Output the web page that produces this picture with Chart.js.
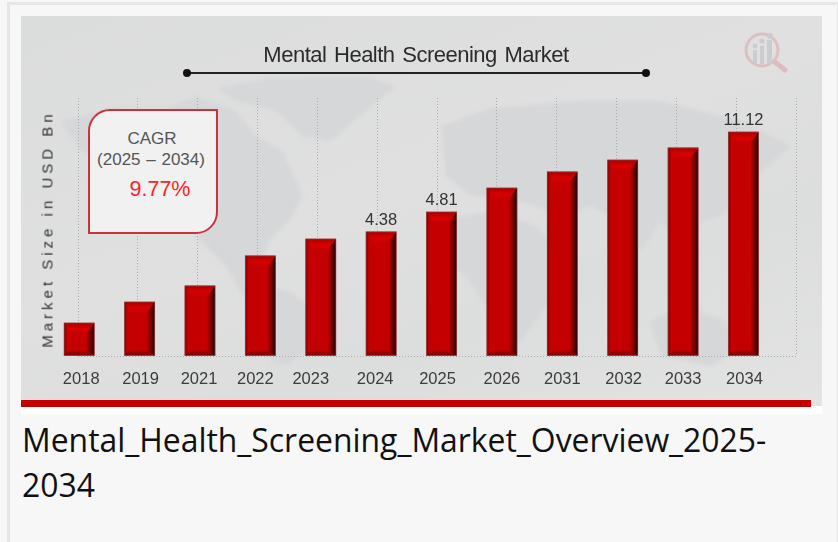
<!DOCTYPE html>
<html>
<head>
<meta charset="utf-8">
<title>Mental Health Screening Market</title>
<script src="https://cdn.jsdelivr.net/npm/chart.js@4"></script>
<style>
html, body { margin: 0; height: 100%; overflow: hidden; background: #f7f7f7; }
.frame { position: absolute; left: 7px; top: 2px; width: 827px; height: 600px; border: 3px solid #e6e6e6; box-sizing: content-box; }
.white { position: absolute; left: 21px; top: 400px; width: 801px; height: 14px; background: #fff; }
.panel { position: absolute; left: 21px; top: 16px; width: 801px; height: 390px; overflow: hidden;
  background: linear-gradient(160deg, #dbdcdc 0%, #e0e0e1 45%, #dcdddd 70%, #e3e3e3 100%); }
.panel svg { position: absolute; left: 0; top: 0; }
.redbar { position: absolute; left: 21px; top: 400px; width: 790px; height: 7px; background: #c40000; }
canvas { position: absolute; left: 21px; top: 16px; }
.title { position: absolute; left: 116px; width: 600px; top: 42px; text-align: center; font: 22px "Liberation Sans", Arial, sans-serif; color: #2b2b2b; word-spacing: 2px; letter-spacing: -0.5px; }
.rule { position: absolute; left: 186px; top: 72px; width: 459px; height: 2px; background: #222; }
.dot { position: absolute; top: 69px; width: 8px; height: 8px; border-radius: 50%; background: #111; }
.ytitle { position: absolute; left: 47px; top: 229px; transform: translate(-50%, -50%) rotate(-90deg); white-space: nowrap;
  font: 15px "Liberation Sans", Arial, sans-serif; letter-spacing: 4px; color: #333; }
.cagr { position: absolute; left: 88px; top: 109px; width: 126px; height: 121px; box-sizing: content-box; background: #f1f1f2;
  border: 2px solid #c9343c; border-radius: 22px 0 22px 0; font-family: "Liberation Sans", Arial, sans-serif; color: #555; }
.cagr div { position: absolute; white-space: nowrap; transform: translate(-50%, -50%); }
.caption { position: absolute; left: 22px; top: 417px; width: 790px; font: 31.9px/45px "Open Sans", sans-serif; color: #111; }
</style>
</head>
<body>
<div class="frame"></div>
<div class="white"></div>
<div class="panel">
  <svg width="801" height="390" viewBox="0 0 801 390">
    <defs><filter id="soft"><feGaussianBlur stdDeviation="2"/></filter></defs>
    <g fill="#d6d7d8" filter="url(#soft)">
      <path d="M40 105 L95 92 L130 100 L175 80 L215 95 L235 120 L262 135 L282 180 L268 205 L248 225 L236 262 L222 280 L205 250 L170 215 L125 190 L95 150 L60 135 Z"/>
      <path d="M195 72 L250 62 L345 60 L375 70 L345 95 L310 125 L280 120 L255 95 L215 85 Z"/>
      <path d="M228 268 L268 275 L300 300 L285 335 L265 350 L250 345 L240 305 Z"/>
      <path d="M420 110 L470 92 L560 85 L640 85 L720 105 L770 130 L735 160 L700 200 L680 205 L660 225 L640 205 L620 235 L600 205 L570 190 L540 200 L500 185 L450 180 L425 160 Z"/>
      <path d="M420 205 L470 195 L515 210 L545 240 L525 290 L500 325 L480 335 L465 290 L445 260 L420 245 Z"/>
      <path d="M628 305 L665 290 L705 305 L715 335 L690 350 L640 340 Z"/>
    </g>
    <g transform="translate(741,34)" opacity="0.75">
      <circle cx="0" cy="0" r="16" fill="none" stroke="#dcb4b8" stroke-width="3"/>
      <line x1="13" y1="12" x2="23" y2="20" stroke="#dfb0b5" stroke-width="5" stroke-linecap="round"/>
      <g fill="#c5c6c9">
        <rect x="-9" y="0" width="4" height="13"/><rect x="-2" y="-4" width="4" height="18"/><rect x="5" y="-10" width="5" height="23"/>
        <circle cx="-7" cy="-4" r="2.4"/><circle cx="0" cy="-9" r="2.6"/><circle cx="8" cy="-14" r="3"/>
      </g>
    </g>
  </svg>
</div>
<div class="redbar"></div>
<canvas id="chart" width="801" height="390"></canvas>
<div class="title">Mental Health Screening Market</div>
<div class="rule"></div>
<div class="dot" style="left:183px"></div>
<div class="dot" style="left:642px"></div>
<div class="ytitle">Market Size in USD Bn</div>
<div class="cagr">
  <div style="left:62px;top:28px;font-size:17px">CAGR</div>
  <div style="left:61px;top:49px;font-size:17px;word-spacing:1px">(2025 – 2034)</div>
  <div style="left:70px;top:78px;font-size:21.5px;color:#ff2222">9.77%</div>
</div>
<div class="caption">Mental_Health_Screening_Market_Overview_2025-2034</div>

<script>
const years = ['2018', '2019', '2021', '2022', '2023', '2024', '2025', '2026', '2031', '2032', '2033', '2034'];
// bar heights (only three are printed, and the drawing isn't to scale with them)
const marketSize = [1.64, 2.68, 3.48, 4.97, 5.81, 6.16, 7.15, 8.34, 9.14, 9.73, 10.33, 11.12];
const printedValues = [null, null, null, null, null, '4.38', '4.81', null, null, null, null, '11.12'];
const gridSlots = ['', '', '', '', '', '', '', '', '', '', '', '', ''];
// the year labels sit a little off their bars in the original
const labelNudge = [2, 1, -1, -5, -10, -6, -4, 0, 0, 1, 0, 1];

const bevelBars = {
    id: 'bevelBars',
    afterDatasetsDraw(chart) {
        const c = chart.ctx;
        chart.getDatasetMeta(0).data.forEach(function(bar, i) {
            const l = bar.x - bar.width / 2, r = bar.x + bar.width / 2, t = bar.y, b = bar.base;
            c.save();
            // top facet
            let g = c.createLinearGradient(0, t, 0, t + 11);
            g.addColorStop(0, '#a80000');
            g.addColorStop(0.5, '#d60000');
            g.addColorStop(1, '#c80000');
            c.fillStyle = g;
            c.beginPath();
            c.moveTo(l + 1, t); c.lineTo(r - 1, t); c.lineTo(r - 8, t + 11); c.lineTo(l + 6, t + 11);
            c.closePath(); c.fill();
            // right side shade
            g = c.createLinearGradient(r - 8, 0, r, 0);
            g.addColorStop(0, 'rgba(40,0,0,0)');
            g.addColorStop(1, 'rgba(15,0,0,0.92)');
            c.fillStyle = g;
            c.beginPath();
            c.moveTo(r, t); c.lineTo(r, b); c.lineTo(r - 8, b - 5); c.lineTo(r - 8, t + 11);
            c.closePath(); c.fill();
            // left edge
            g = c.createLinearGradient(l, 0, l + 3, 0);
            g.addColorStop(0, 'rgba(90,0,0,0.6)');
            g.addColorStop(1, 'rgba(90,0,0,0)');
            c.fillStyle = g;
            c.fillRect(l, t, 3, b - t);
            // bottom facet
            g = c.createLinearGradient(0, b - 6, 0, b);
            g.addColorStop(0, 'rgba(70,0,0,0)');
            g.addColorStop(1, 'rgba(70,0,0,0.65)');
            c.fillStyle = g;
            c.beginPath();
            c.moveTo(l, b); c.lineTo(r, b); c.lineTo(r - 8, b - 6); c.lineTo(l + 6, b - 6);
            c.closePath(); c.fill();
            c.strokeStyle = 'rgba(130,90,90,0.5)';
            c.lineWidth = 1;
            c.strokeRect(l, t, bar.width, b - t);
            // printed value
            if (printedValues[i]) {
                c.fillStyle = '#333';
                c.font = '16.5px "Liberation Sans", Arial, sans-serif';
                c.textAlign = 'center';
                c.textBaseline = 'bottom';
                c.fillText(printedValues[i], bar.x, t - 3);
            }
            c.restore();
        });
    }
};

document.addEventListener('DOMContentLoaded', function() {
    const ctx = document.getElementById('chart').getContext('2d');
    new Chart(ctx, {
        type: 'bar',
        data: {
            datasets: [{
                label: 'Market Size in USD Bn',
                data: marketSize.map(function(v, i) { return { x: i, y: v }; }),
                backgroundColor: '#c40000',
                barThickness: 30,
                clip: false
            }]
        },
        options: {
            responsive: false,
            animation: false,
            layout: { padding: { left: 57, right: 26, top: 82, bottom: 0 } },
            plugins: { legend: { display: false }, tooltip: { enabled: false } },
            scales: {
                x: {
                    type: 'linear',
                    min: -0.02,
                    max: 11.87,
                    offset: false,
                    grid: { display: false },
                    border: { display: false },
                    afterBuildTicks(scale) {
                        scale.ticks = years.map(function(y, i) { return { value: i + labelNudge[i] / 60.4 }; });
                    },
                    afterFit(scale) { scale.height = 50; },
                    ticks: {
                        autoSkip: false,
                        maxRotation: 0,
                        padding: 6,
                        color: '#3c3c3c',
                        font: { family: '"Liberation Sans", Arial, sans-serif', size: 16.5 },
                        callback: function(value, index) { return years[index]; }
                    }
                },
                gridX: {
                    type: 'category',
                    labels: gridSlots,
                    position: 'bottom',
                    offset: false,
                    border: { display: false, dash: [1, 2] },
                    grid: { color: '#a9aaab', lineWidth: 1, drawTicks: false, offset: false },
                    ticks: { display: false }
                },
                y: {
                    min: 0,
                    max: 12.81,
                    border: { display: false, dash: [1, 2] },
                    grid: {
                        drawTicks: false,
                        color: function(c) { return c.tick.value === 0 ? '#a9aaab' : 'transparent'; }
                    },
                    ticks: { display: false }
                }
            }
        },
        plugins: [bevelBars]
    });
});
</script>
</body>
</html>
